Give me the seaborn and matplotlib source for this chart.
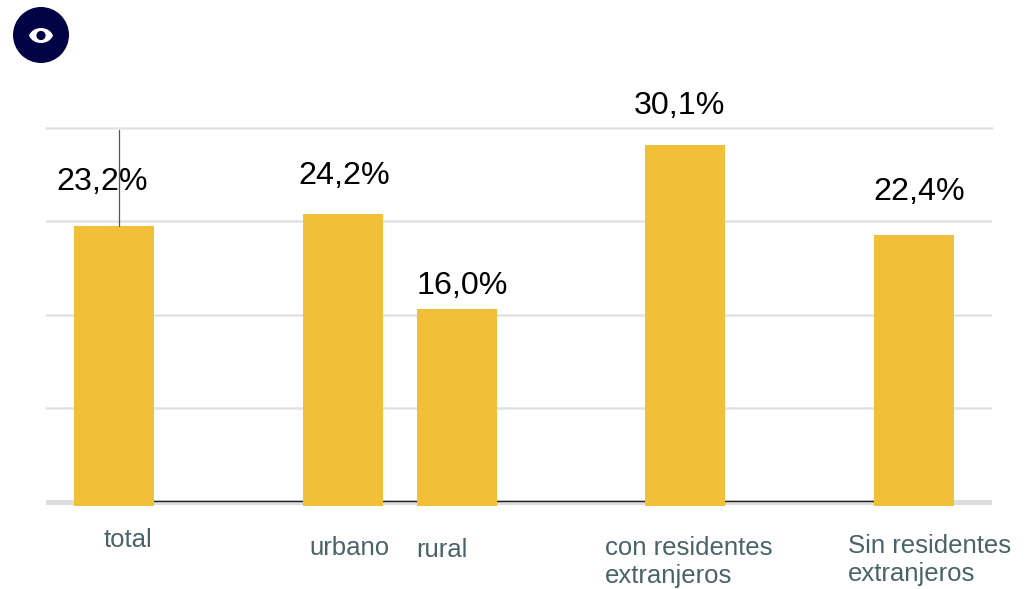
import matplotlib
matplotlib.use("Agg")
import matplotlib.pyplot as plt
from matplotlib.patches import Circle, PathPatch
from matplotlib.path import Path
import pandas as pd
import seaborn as sns

# -----------------------------
# Data
# -----------------------------
categories = ["total", "urbano", "rural", "con residentes\nextranjeros", "Sin residentes\nextranjeros"]
slots = [0, 2, 3, 5, 7]
# bar heights as drawn in the picture (rural and con residentes differ a bit from their labels)
values = [23.2, 24.2, 16.3, 29.9, 22.45]
value_labels = ["23,2%", "24,2%", "16,0%", "30,1%", "22,4%"]
grid_levels = [0.33, 8.09, 15.8, 23.57, 31.33]

df = pd.DataFrame({"slot": slots, "value": values, "category": categories})

W, H = 1036, 589
BAR = "#f2bf38"
GRID = "#e2e2e2"
LABEL = "#4a6368"
NAVY = "#020344"

sns.set_style("white")
plt.rcParams["font.family"] = ["Liberation Sans", "DejaVu Sans"]

fig = plt.figure(figsize=(W / 100, H / 100), dpi=100)

# plot area in pixels: x 46-992, y 128-505.5
ax = fig.add_axes([46 / W, 1 - 505.5 / H, (992 - 46) / W, (505.5 - 128) / H])
sns.barplot(data=df, x="slot", y="value", native_scale=True, width=0.7,
            color=BAR, saturation=1, linewidth=0, ax=ax, zorder=3)
px_per_slot = 114.29
ax.set_xlim((46 - 114) / px_per_slot, (992 - 114) / px_per_slot)
ax.set_ylim(0, (505.5 - 128) / 12.05)
ax.set_xlabel("")
ax.set_ylabel("")
ax.set_xticks([])
ax.set_yticks(grid_levels[1:-1])
ax.set_yticklabels([])
ax.tick_params(length=0)
ax.grid(axis="y", color=GRID, linewidth=1.8, zorder=0)
ax.set_axisbelow(True)
for spine in ax.spines.values():
    spine.set_visible(False)

# top grid line sits on the axes edge, baseline is heavier
ax.axhline(grid_levels[-1], color=GRID, linewidth=1.8, clip_on=False, zorder=0)
ax.axhline(grid_levels[0], color="#dddddd", linewidth=3.6, zorder=1)
ax.hlines(0.41, slots[0], slots[-1], color="#222222", linewidth=1.0, zorder=2)

# -----------------------------
# Overlay in pixel coordinates
# -----------------------------
over = fig.add_axes([0, 0, 1, 1], facecolor="none")
over.set_xlim(0, W)
over.set_ylim(H, 0)
over.axis("off")

# stray vertical line above the first bar
over.plot([119, 119], [130, 226], color="#555555", linewidth=0.9, zorder=5)

value_pos = [(102.5, 182), (344, 176), (462, 286), (679, 106), (919, 192)]
for (x, y), txt in zip(value_pos, value_labels):
    over.text(x, y, txt, fontsize=23.2, color="black", ha="center", va="center", zorder=4)

cat_pos = [(104, 540), (309, 548), (416, 550), (605, 562), (848, 560)]
for (x, y), txt in zip(cat_pos, categories):
    over.text(x, y, txt, fontsize=18.5, color=LABEL, ha="left", va="center", linespacing=1.2)

# eye icon
over.add_patch(Circle((41, 35), 28, facecolor=NAVY, edgecolor="none", zorder=5))
eye = Path(
    [(29, 35.5), (33, 25.5), (49, 25.5), (53, 35.5), (49, 45.5), (33, 45.5), (29, 35.5)],
    [Path.MOVETO, Path.CURVE4, Path.CURVE4, Path.CURVE4, Path.CURVE4, Path.CURVE4, Path.CURVE4],
)
over.add_patch(PathPatch(eye, facecolor="white", edgecolor="none", zorder=6))
over.add_patch(Circle((41, 35.5), 4.6, facecolor=NAVY, edgecolor="none", zorder=7))

fig.savefig("out.png", dpi=100)
